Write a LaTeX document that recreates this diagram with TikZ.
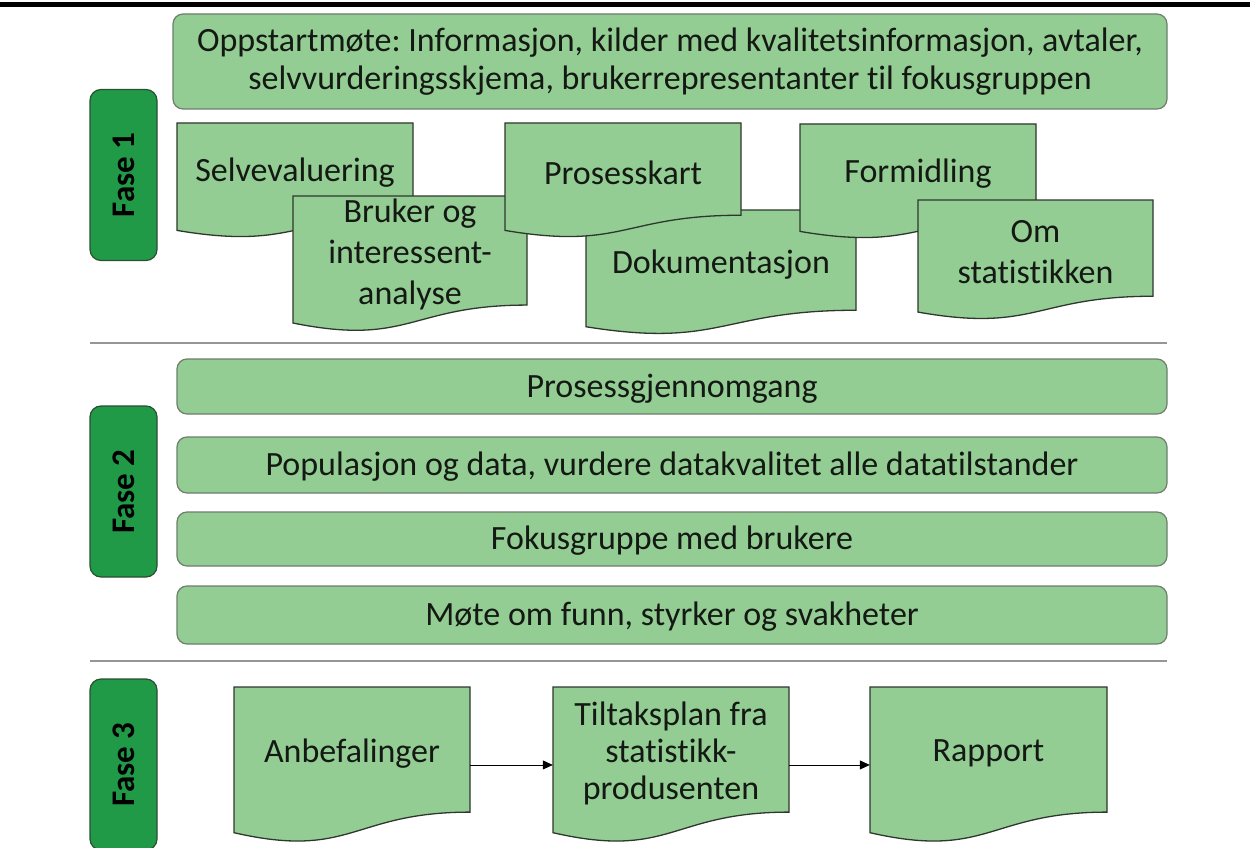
\documentclass[tikz,border=0pt]{standalone}
\usepackage{fontspec}
\setmainfont{Carlito}[Ligatures=NoCommon, RawFeature={-liga;-clig}]
\usetikzlibrary{arrows.meta}
\frenchspacing

\definecolor{boxgreen}{RGB}{147,205,147}
\definecolor{fasegreen}{RGB}{33,154,72}
\definecolor{docline}{RGB}{45,55,45}
\definecolor{barline}{RGB}{110,125,110}
\definecolor{faseline}{RGB}{40,80,50}
\definecolor{sepgray}{RGB}{150,150,150}
\definecolor{textdark}{RGB}{20,25,20}

% document shape: name, x, y (top left), width, height, text
\newcommand{\docnode}[6]{%
  \pgfmathsetmacro{\docXr}{#2+#4}%
  \pgfmathsetmacro{\docXm}{#2+0.5*#4}%
  \pgfmathsetmacro{\docYr}{#3+0.802*#5}%
  \pgfmathsetmacro{\docYc}{#3+1.1075*#5}%
  \pgfmathsetmacro{\docYl}{#3+0.934*#5}%
  \pgfmathsetmacro{\docYt}{#3+0.401*#5}%
  \pgfmathsetmacro{\docHt}{0.802*#5}%
  \filldraw[Doc] (#2,#3) -- (\docXr,#3) -- (\docXr,\docYr)
    .. controls (\docXm,\docYr) and (\docXm,\docYc) .. (#2,\docYl) -- cycle;
  \node (#1) [DocText, minimum width=#4pt, minimum height=\docHt pt] at (\docXm,\docYt) {#6};%
}

\begin{document}
\begin{tikzpicture}[x=1pt, y=-1pt,
        Doc/.style={draw=docline, fill=boxgreen, line width=1.3pt},
        DocText/.style={inner sep=0pt, align=center, text=textdark, yshift=-4pt, font=\fontsize{34}{41}\selectfont},
        Bar/.style={rectangle, rounded corners=10pt, draw=barline, fill=boxgreen, line width=1.2pt, align=center, text=textdark, inner sep=0pt, font=\fontsize{34}{38}\selectfont},
        BarOne/.style={Bar, minimum width=990pt, text height=26pt, text depth=5pt},
        Fase/.style={rectangle, rounded corners=11pt, draw=faseline, fill=fasegreen, line width=1.2pt, minimum width=171pt, minimum height=67pt, rotate=90, text=black, font=\fontsize{33}{38}\bfseries},
        Sep/.style={draw=sepgray, line width=2pt},
        Flow/.style={-{Triangle[length=10pt, width=9pt]}, line width=0.8pt, draw=black}
    ]
    \useasboundingbox (0,0) rectangle (1250,848);

    % top rule
    \fill[black] (0,2.5) rectangle (1250,7.5);

    % Fase 1
    \node (fase1) [Fase] at (123.5,175) {Fase 1};
    \node (oppstart) [Bar, minimum width=994pt, minimum height=95pt] at (670,61.5) {Oppstartmøte: Informasjon, kilder med kvalitetsinformasjon, avtaler,\\selvvurderingsskjema, brukerrepresentanter til fokusgruppen};

    \docnode{selv}{177}{123}{236}{115}{Selvevaluering}
    \docnode{bruker}{293}{196}{234}{136}{Bruker og\\interessent-\\analyse}
    \docnode{dok}{586}{210}{270}{125}{Dokumentasjon}
    \docnode{prosess}{505}{123}{236}{115}{Prosesskart}
    \docnode{formidl}{800}{124}{236}{115}{Formidling}
    \docnode{omstat}{918}{200}{235}{120}{Om\\statistikken}

    \draw[Sep] (90,343) -- (1167,343);

    % Fase 2
    \node (fase2) [Fase] at (123.5,491.5) {Fase 2};
    \node (gjennomg) [BarOne, minimum height=55pt] at (672,386.5) {Prosessgjennomgang};
    \node (populasj) [BarOne, minimum height=56pt] at (672,465) {Populasjon og data, vurdere datakvalitet alle datatilstander};
    \node (fokus) [BarOne, minimum height=54pt] at (672,539) {Fokusgruppe med brukere};
    \node (mote) [BarOne, minimum height=58pt] at (672,615) {Møte om funn, styrker og svakheter};

    \draw[Sep] (90,661) -- (1167,661);

    % Fase 3
    \node (fase3) [Fase] at (123.5,764.5) {Fase 3};
    \docnode{anbef}{234}{687}{236}{156}{Anbefalinger}
    \docnode{tiltak}{553}{687}{236}{156}{Tiltaksplan fra\\[-4pt]statistikk-\\[-4pt]produsenten}
    \docnode{rapport}{870}{687}{237}{156}{Rapport}

    \draw[Flow] ([yshift=-11.4pt]anbef.east) -- ([yshift=-11.4pt]tiltak.west);
    \draw[Flow] ([yshift=-11.4pt]tiltak.east) -- ([yshift=-11.4pt]rapport.west);

\end{tikzpicture}
\end{document}
